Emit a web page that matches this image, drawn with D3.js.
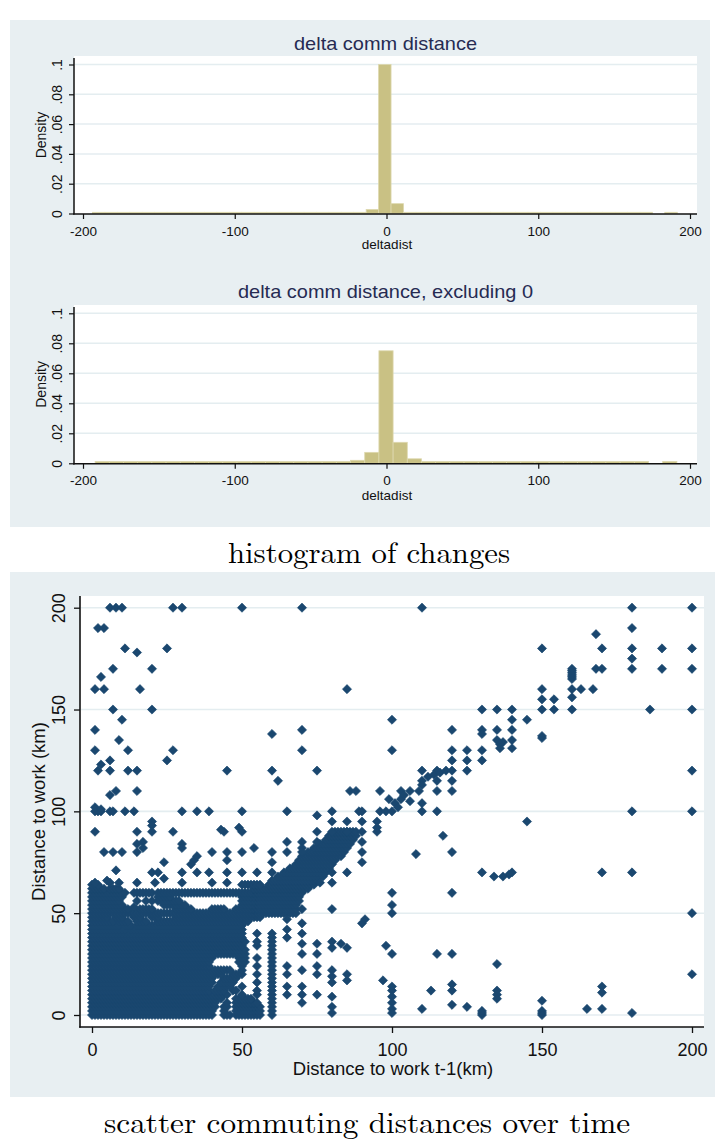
<!DOCTYPE html>
<html>
<head>
<meta charset="utf-8">
<script src="https://cdn.jsdelivr.net/npm/d3@7"></script>
<style>
    body { margin: 0; background: #fff; }
    svg { display: block; }
</style>
</head>
<body>
<svg id="chart" width="715" height="1144"></svg>
<script>
(() => {
    // ---- histogram data (density per bin) ----
    const histTicksX = [-200, -100, 0, 100, 200];
    const histTicksY = [0, 0.02, 0.04, 0.06, 0.08, 0.1];
    const histTickLabelsY = ["0", ".02", ".04", ".06", ".08", ".1"];

    // all changes: 47 bins of 8.2 km starting at -193.8
    const hist1Start = -193.8;
    const hist1Width = 8.2;
    const hist1Density = [
        0.0008, 0.0008, 0.0008, 0.0008, 0.0008, 0.0008, 0.0008, 0.0008, 0.0008, 0.0008, 0.0008,
        0.0008, 0.0008, 0.0008, 0.0008, 0.0008, 0.0008, 0.0008, 0.0008, 0.0008, 0.0008, 0.0008,
        0.0027, 0.1, 0.0066,
        0.0008, 0.0008, 0.0008, 0.0008, 0.0008, 0.0008, 0.0008, 0.0008, 0.0008, 0.0008,
        0.0008, 0.0008, 0.0008, 0.0008, 0.0008, 0.0008, 0.0008, 0.0008, 0.0008, 0.0008,
        0, 0.0008
    ];

    // excluding 0: 41 bins of 9.35 km starting at -192
    const hist2Start = -192;
    const hist2Width = 9.35;
    const hist2Density = [
        0.0012, 0.0012, 0.0012, 0.0012, 0.0012, 0.0012, 0.0012, 0.0012, 0.0012,
        0.0012, 0.0012, 0.0012, 0.0012, 0.0012, 0.0012, 0.0012, 0.0012, 0.0012,
        0.002, 0.0073, 0.075, 0.014, 0.003,
        0.0012, 0.0012, 0.0012, 0.0012, 0.0012, 0.0012, 0.0012, 0.0012,
        0.0012, 0.0012, 0.0012, 0.0012, 0.0012, 0.0012, 0.0012, 0.0012,
        0, 0.0012
    ];

    // ---- scatter data: distance to work t-1 (x) vs t (y), km ----
    const scatterTicks = [0, 50, 100, 150, 200];

    // dense area: [y, xFrom, xTo] = one observation at every whole km from xFrom to xTo
    const denseRuns = [
        [0, 0, 40], [0, 44, 46], [0, 48, 56], [0, 60, 60],
        [2, 0, 40], [2, 44, 44], [2, 48, 56], [2, 60, 60],
        [4, 0, 41], [4, 44, 45], [4, 48, 56], [4, 60, 60],
        [6, 0, 41], [6, 45, 45], [6, 48, 55], [6, 60, 60],
        [8, 0, 43], [8, 48, 53], [8, 60, 60],
        [10, 0, 45], [10, 50, 50], [10, 55, 55], [10, 60, 60],
        [12, 0, 39], [12, 41, 44], [12, 47, 48], [12, 55, 55], [12, 60, 60],
        [14, 0, 39], [14, 42, 46], [14, 50, 50], [14, 60, 60],
        [16, 0, 40], [16, 43, 47], [16, 55, 55], [16, 60, 60],
        [18, 0, 40], [18, 44, 48], [18, 60, 60],
        [20, 0, 43], [20, 47, 50], [20, 55, 55], [20, 60, 60],
        [22, 0, 46], [22, 50, 50], [22, 60, 60],
        [24, 0, 39], [24, 50, 50], [24, 55, 55], [24, 60, 60],
        [26, 0, 39], [26, 49, 51], [26, 60, 60],
        [28, 0, 40], [28, 49, 51], [28, 55, 55], [28, 60, 60],
        [30, 0, 51], [30, 60, 60],
        [32, 0, 51], [32, 60, 60],
        [34, 0, 50], [34, 55, 55], [34, 60, 60],
        [36, 0, 51], [36, 55, 55], [36, 60, 60],
        [38, 0, 50], [38, 60, 60],
        [40, 0, 50], [40, 55, 55], [40, 60, 60],
        [42, 0, 11], [42, 13, 50],
        [44, 0, 9], [44, 11, 13], [44, 15, 50],
        [46, 0, 7], [46, 9, 12], [46, 15, 18], [46, 22, 52],
        [48, 0, 5], [48, 8, 10], [48, 14, 16], [48, 20, 22], [48, 28, 56],
        [50, 0, 68],
        [52, 0, 12], [52, 16, 20], [52, 28, 33], [52, 40, 44], [52, 48, 68],
        [54, 0, 10], [54, 24, 31], [54, 50, 68],
        [56, 0, 9], [56, 22, 29], [56, 50, 69],
        [58, 0, 10], [58, 22, 26], [58, 50, 69],
        [60, 0, 11], [60, 14, 20], [60, 22, 70],
        [62, 0, 4], [62, 6, 9], [62, 54, 72],
        [64, 0, 2], [64, 50, 56], [64, 59, 74],
        [66, 60, 75],
        [68, 62, 77],
        [70, 64, 78],
        [72, 66, 79],
        [74, 68, 80],
        [76, 69, 81],
        [78, 70, 83],
        [80, 72, 84],
        [82, 74, 85],
        [84, 76, 86],
        [86, 78, 87],
        [88, 79, 88],
        [90, 81, 88]
    ];

    // scattered observations [x, y]
    const outlierPoints = [
        [6, 200], [8, 200], [10, 200], [27, 200], [30, 200], [50, 200], [70, 200], [110, 200], [180, 200], [200, 200],
        [2, 190], [4, 190], [180, 190], [168, 187],
        [11, 180], [25, 180], [150, 180], [170, 180], [180, 180], [190, 180], [200, 180],
        [15, 178], [180, 175],
        [7, 170], [20, 170], [168, 170], [170, 170], [180, 170], [190, 170], [200, 170],
        [3, 166], [160, 165], [160, 166], [160, 167], [160, 168], [160, 169], [160, 170],
        [1, 160], [4, 160], [16, 160], [85, 160], [150, 160], [160, 160], [163, 160], [167, 160],
        [150, 155], [154, 155], [160, 156],
        [7, 150], [20, 150], [130, 150], [135, 150], [140, 150], [150, 150], [154, 150], [160, 150], [186, 150], [200, 150],
        [10, 145], [100, 145], [140, 145], [145, 145],
        [1, 140], [70, 140], [60, 138], [120, 140], [130, 140], [130, 138], [135, 140], [140, 140],
        [9, 135], [150, 136], [150, 137], [135, 135], [137, 134], [140, 135], [136, 133],
        [1, 130], [12, 130], [27, 130], [70, 130], [100, 130], [120, 130], [125, 130], [130, 130], [136, 131], [140, 131],
        [6, 125], [25, 125], [120, 125], [125, 125], [130, 125],
        [3, 123], [2, 120], [6, 120], [12, 120], [15, 120], [45, 120], [60, 120], [75, 120],
        [110, 120], [115, 120], [120, 120], [125, 120], [200, 120],
        [112, 117], [114, 118], [116, 119], [118, 120],
        [62, 115], [110, 115], [115, 115], [120, 115], [110, 113],
        [6, 108], [8, 110], [15, 110], [86, 110], [88, 110], [96, 110], [103, 110], [109, 110], [115, 110], [120, 110],
        [99, 106], [103, 106], [106, 105], [110, 104], [101, 104], [104, 108], [106, 110],
        [1, 100], [2, 100], [3, 100], [6, 100], [7, 100], [11, 100], [14, 100], [30, 100], [35, 100], [39, 100],
        [50, 100], [65, 100], [80, 100], [89, 100], [90, 100], [96, 100], [98, 100], [100, 100], [102, 102],
        [110, 100], [115, 100], [180, 100], [200, 100], [1, 102], [3, 101],
        [75, 98], [20, 95], [80, 95], [85, 95], [90, 95], [95, 95], [145, 95], [20, 93],
        [1, 90], [15, 90], [20, 90], [27, 90], [44, 90], [43, 91], [49, 92], [50, 90], [75, 90], [80, 90],
        [85, 90], [90, 90], [95, 90], [95, 92],
        [117, 88], [17, 85], [30, 84], [30, 82], [65, 85], [70, 85], [70, 82], [75, 85], [90, 85],
        [4, 80], [7, 80], [10, 80], [15, 80], [15, 84], [17, 82], [40, 80], [45, 80], [50, 80], [54, 82],
        [60, 80], [65, 80], [70, 80], [90, 80], [120, 80], [108, 79],
        [24, 75], [34, 76], [35, 78], [45, 76], [60, 75], [90, 75], [33, 74],
        [8, 71], [20, 70], [22, 70], [24, 67], [30, 70], [35, 70], [39, 70], [45, 70], [50, 70], [55, 70],
        [60, 70], [80, 70], [85, 70],
        [130, 70], [134, 68], [137, 68], [139, 69], [140, 70], [170, 70], [180, 70],
        [1, 65], [6, 65], [9, 65], [15, 65], [21, 65], [30, 65], [40, 65], [45, 65], [80, 65], [76, 65],
        [100, 60], [120, 60], [80, 52], [70, 52], [100, 54], [100, 50], [200, 50],
        [15, 56], [18, 56], [20, 56], [14, 53], [5, 66],
        [90, 45], [91, 47], [65, 47], [65, 42], [70, 45], [70, 40], [70, 35], [70, 30], [75, 35], [75, 30],
        [80, 33], [80, 36], [83, 35], [85, 33], [65, 38],
        [98, 34], [100, 30], [115, 30], [120, 30], [135, 25], [97, 17], [200, 20],
        [65, 10], [65, 14], [65, 20], [65, 24], [70, 6], [70, 10], [70, 14], [70, 22], [75, 10], [75, 20], [75, 24],
        [80, 1], [80, 4], [80, 9], [80, 16], [80, 19], [80, 22], [85, 17], [85, 20],
        [100, 14], [100, 12], [100, 9], [100, 6], [100, 3], [100, 1], [113, 12], [120, 15], [120, 12], [120, 5],
        [110, 3], [125, 4],
        [130, 0], [130, 1], [130, 2], [135, 12], [135, 10], [135, 8], [150, 7], [150, 2], [150, 1], [150, 0],
        [165, 3], [170, 14], [170, 11], [170, 3], [180, 1]
    ];

    const panelFill = '#e8eff2';
    const gridColor = '#e4edf0';
    const barFill = '#c9c184';
    const markColor = '#1a476f';
    const sans = 'Arial, "Liberation Sans", sans-serif';
    const plainNum = d => String(d); // keep ascii hyphen, like the original

    const svg = d3.select('#chart');

    svg.append('rect').attr('x', 10).attr('y', 20).attr('width', 700).attr('height', 507).attr('fill', panelFill);
    svg.append('rect').attr('x', 10).attr('y', 572).attr('width', 706).attr('height', 525).attr('fill', panelFill);

    function drawHistogram(cfg) {
        const g = svg.append('g');
        const x = d3.scaleLinear().domain([-200, 200]).range([83, 690]);
        const y = d3.scaleLinear().domain([0, 0.1]).range([cfg.base, cfg.base - cfg.span]);
        const axisY = cfg.base + 0.5;

        g.append('rect')
            .attr('x', 74).attr('y', cfg.top)
            .attr('width', 623).attr('height', axisY - cfg.top)
            .attr('fill', '#fff');

        g.append('g').selectAll('line')
            .data(histTicksY.slice(1))
            .join('line')
            .attr('x1', 75).attr('x2', 697)
            .attr('y1', d => y(d)).attr('y2', d => y(d))
            .attr('stroke', gridColor).attr('stroke-width', 1.5);

        const bins = cfg.density
            .map((d, i) => ({ d, x0: cfg.start + i * cfg.width, x1: cfg.start + (i + 1) * cfg.width }))
            .filter(b => b.d > 0);

        g.append('g').selectAll('rect')
            .data(bins)
            .join('rect')
            .attr('x', b => x(b.x0))
            .attr('width', b => x(b.x1) - x(b.x0))
            .attr('y', b => y(b.d))
            .attr('height', b => y(0) - y(b.d))
            .attr('fill', barFill)
            .attr('stroke', '#ddd8ae')
            .attr('stroke-width', 0.8);

        // axes
        const xAxis = g.append('g')
            .attr('transform', `translate(0,${axisY})`)
            .call(d3.axisBottom(x).tickValues(histTicksX).tickFormat(plainNum).tickSize(5).tickSizeOuter(0));
        xAxis.select('.domain').remove();
        xAxis.selectAll('line').attr('stroke', '#111').attr('stroke-width', 1.2);
        xAxis.selectAll('text')
            .attr('y', 21.5).attr('dy', 0)
            .attr('fill', '#111')
            .attr('font-family', sans).attr('font-size', 13.5);

        const yAxis = g.append('g')
            .attr('transform', 'translate(74,0)')
            .call(d3.axisLeft(y).tickValues(histTicksY).tickFormat((d, i) => histTickLabelsY[i]).tickSize(5).tickSizeOuter(0));
        yAxis.select('.domain').remove();
        yAxis.selectAll('line').attr('stroke', '#111').attr('stroke-width', 1.2);
        yAxis.selectAll('text')
            .attr('transform', 'rotate(-90)')
            .attr('x', 0).attr('y', -12.3).attr('dy', 0)
            .attr('text-anchor', 'middle')
            .attr('fill', '#111')
            .attr('font-family', sans).attr('font-size', 14);

        g.append('line')
            .attr('x1', 74).attr('x2', 74).attr('y1', cfg.top + 2).attr('y2', axisY + 0.6)
            .attr('stroke', '#111').attr('stroke-width', 1.5);
        g.append('line')
            .attr('x1', 73.3).attr('x2', 697).attr('y1', axisY).attr('y2', axisY)
            .attr('stroke', '#111').attr('stroke-width', 1.5);

        // titles
        g.append('text')
            .attr('x', 385.5).attr('y', cfg.titleY)
            .attr('text-anchor', 'middle')
            .attr('font-family', sans).attr('font-size', 19)
            .attr('fill', '#262b52')
            .attr('textLength', cfg.titleLen).attr('lengthAdjust', 'spacingAndGlyphs')
            .text(cfg.title);

        g.append('text')
            .attr('x', 387).attr('y', cfg.xTitleY)
            .attr('text-anchor', 'middle')
            .attr('font-family', sans).attr('font-size', 13.5)
            .attr('fill', '#111')
            .text('deltadist');

        g.append('text')
            .attr('transform', `translate(45.5,${(cfg.top + axisY) / 2}) rotate(-90)`)
            .attr('text-anchor', 'middle')
            .attr('font-family', sans).attr('font-size', 14)
            .attr('fill', '#111')
            .text('Density');
    }

    drawHistogram({
        top: 56, base: 213.5, span: 149,
        title: 'delta comm distance', titleY: 49.5, titleLen: 183,
        xTitleY: 249,
        density: hist1Density, start: hist1Start, width: hist1Width
    });

    drawHistogram({
        top: 305, base: 463.3, span: 150,
        title: 'delta comm distance, excluding 0', titleY: 298, titleLen: 295,
        xTitleY: 499.5,
        density: hist2Density, start: hist2Start, width: hist2Width
    });

    // ---- scatter ----
    const sx = d3.scaleLinear().domain([0, 200]).range([92, 692]);
    const sy = d3.scaleLinear().domain([0, 200]).range([1015, 607.7]);
    const plotTop = 596, plotBottom = 1027, plotLeft = 80, plotRight = 704;

    const sg = svg.append('g');
    sg.append('rect')
        .attr('x', plotLeft).attr('y', plotTop)
        .attr('width', plotRight - plotLeft).attr('height', plotBottom - plotTop)
        .attr('fill', '#fff');

    sg.append('g').selectAll('line')
        .data(scatterTicks)
        .join('line')
        .attr('x1', plotLeft + 1).attr('x2', plotRight)
        .attr('y1', d => sy(d)).attr('y2', d => sy(d))
        .attr('stroke', gridColor).attr('stroke-width', 1.6);

    const densePoints = [];
    denseRuns.forEach(([yv, x0, x1]) => {
        for (let xv = x0; xv <= x1; xv++) densePoints.push([xv, yv]);
    });
    const allPoints = densePoints.concat(outlierPoints);

    const diamond = d3.symbol().type(d3.symbolSquare).size(42);
    sg.append('g').selectAll('path')
        .data(allPoints)
        .join('path')
        .attr('d', diamond)
        .attr('transform', d => `translate(${sx(d[0])},${sy(d[1])}) rotate(45)`)
        .attr('fill', markColor)
        .attr('stroke', markColor)
        .attr('stroke-width', 0.6);

    const sxAxis = sg.append('g')
        .attr('transform', `translate(0,${plotBottom})`)
        .call(d3.axisBottom(sx).tickValues(scatterTicks).tickFormat(plainNum).tickSize(6).tickSizeOuter(0));
    sxAxis.select('.domain').remove();
    sxAxis.selectAll('line').attr('stroke', '#111').attr('stroke-width', 1.3);
    sxAxis.selectAll('text')
        .attr('y', 29).attr('dy', 0)
        .attr('fill', '#111')
        .attr('font-family', sans).attr('font-size', 18);

    const syAxis = sg.append('g')
        .attr('transform', `translate(${plotLeft},0)`)
        .call(d3.axisLeft(sy).tickValues(scatterTicks).tickFormat(plainNum).tickSize(6).tickSizeOuter(0));
    syAxis.select('.domain').remove();
    syAxis.selectAll('line').attr('stroke', '#111').attr('stroke-width', 1.3);
    syAxis.selectAll('text')
        .attr('transform', 'rotate(-90)')
        .attr('x', 0).attr('y', -15).attr('dy', 0)
        .attr('text-anchor', 'middle')
        .attr('fill', '#111')
        .attr('font-family', sans).attr('font-size', 18);

    sg.append('line')
        .attr('x1', plotLeft).attr('x2', plotLeft).attr('y1', plotTop).attr('y2', plotBottom + 0.8)
        .attr('stroke', '#111').attr('stroke-width', 1.6);
    sg.append('line')
        .attr('x1', plotLeft - 0.8).attr('x2', plotRight).attr('y1', plotBottom).attr('y2', plotBottom)
        .attr('stroke', '#111').attr('stroke-width', 1.6);

    sg.append('text')
        .attr('x', 393).attr('y', 1075)
        .attr('text-anchor', 'middle')
        .attr('font-family', sans).attr('font-size', 18.5)
        .attr('fill', '#111')
        .text('Distance to work t-1(km)');

    sg.append('text')
        .attr('transform', `translate(45,${(plotTop + plotBottom) / 2}) rotate(-90)`)
        .attr('text-anchor', 'middle')
        .attr('font-family', sans).attr('font-size', 18.5)
        .attr('fill', '#111')
        .text('Distance to work (km)');

    // captions
    const serif = '"Latin Modern Roman", "Liberation Serif", "DejaVu Serif", serif';
    svg.append('text')
        .attr('x', 369).attr('y', 563)
        .attr('text-anchor', 'middle')
        .attr('font-family', serif).attr('font-size', 29)
        .attr('fill', '#000')
        .attr('textLength', 282).attr('lengthAdjust', 'spacingAndGlyphs')
        .text('histogram of changes');

    svg.append('text')
        .attr('x', 367).attr('y', 1133)
        .attr('text-anchor', 'middle')
        .attr('font-family', serif).attr('font-size', 29)
        .attr('fill', '#000')
        .attr('textLength', 526).attr('lengthAdjust', 'spacingAndGlyphs')
        .text('scatter commuting distances over time');
})();
</script>
</body>
</html>
